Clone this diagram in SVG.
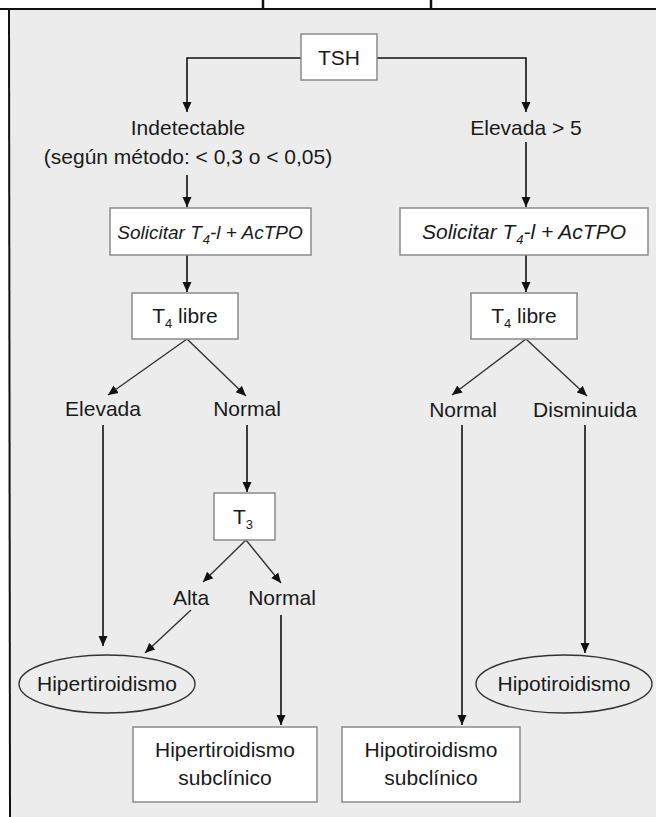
<svg xmlns="http://www.w3.org/2000/svg" width="656" height="817" viewBox="0 0 656 817">
  <defs>
    <marker id="ah" viewBox="0 0 10 10" refX="10" refY="5" markerWidth="10" markerHeight="10" markerUnits="userSpaceOnUse" orient="auto">
      <path d="M0,0.5 L10,5 L0,9.5 Z" fill="#111"/>
    </marker>
    <style>
      .t { font-family: "Liberation Sans", Arial, sans-serif; font-size: 21px; fill: #1a1a1a; text-anchor: middle; }
      .it { font-style: italic; }
      .sm { font-size: 19px; }
      .sub { font-size: 13px; }
      .box { fill: #ffffff; stroke: #8a8a8a; stroke-width: 1.5; }
      .ell { fill: none; stroke: #333; stroke-width: 1.4; }
      .ln { fill: none; stroke: #111; stroke-width: 1.6; }
      .dg { fill: none; stroke: #333; stroke-width: 1.4; }
    </style>
  </defs>
  <rect x="0" y="0" width="656" height="817" fill="#ffffff"/>
  <rect x="9" y="9" width="647" height="808" fill="#ececec"/>
  <line x1="0" y1="9" x2="656" y2="9" stroke="#111" stroke-width="2"/>
  <line x1="9" y1="9" x2="10" y2="817" stroke="#111" stroke-width="2"/>
  <line x1="263" y1="0" x2="263" y2="9" stroke="#111" stroke-width="2.5"/>
  <line x1="431" y1="0" x2="431" y2="9" stroke="#111" stroke-width="2.5"/>

  <g id="connectors">
    <path class="ln" d="M301,58 H187 V112" marker-end="url(#ah)"/>
    <path class="ln" d="M377,58 H526 V112" marker-end="url(#ah)"/>
    <path class="ln" d="M187,175 V207" marker-end="url(#ah)"/>
    <path class="ln" d="M526,142 V207" marker-end="url(#ah)"/>
    <path class="ln" d="M187,255 V292" marker-end="url(#ah)"/>
    <path class="ln" d="M526,255 V292" marker-end="url(#ah)"/>
    <path class="dg" d="M187,339 L108,395" marker-end="url(#ah)"/>
    <path class="dg" d="M187,339 L246,396" marker-end="url(#ah)"/>
    <path class="dg" d="M526,339 L452,395" marker-end="url(#ah)"/>
    <path class="dg" d="M526,339 L587,396" marker-end="url(#ah)"/>
    <path class="ln" d="M103,425 V646" marker-end="url(#ah)"/>
    <path class="ln" d="M247,425 V492" marker-end="url(#ah)"/>
    <path class="dg" d="M246,540 L203,582" marker-end="url(#ah)"/>
    <path class="dg" d="M246,540 L281,583" marker-end="url(#ah)"/>
    <path class="dg" d="M191,610 L145,653" marker-end="url(#ah)"/>
    <path class="ln" d="M281,615 V725" marker-end="url(#ah)"/>
    <path class="ln" d="M462,425 V725" marker-end="url(#ah)"/>
    <path class="ln" d="M585,425 V653" marker-end="url(#ah)"/>
  </g>

  <g id="tsh">
    <rect class="box" x="301" y="34" width="76" height="46"/>
    <text class="t" x="339" y="65">TSH</text>
  </g>
  <g id="indetectable">
    <text class="t" x="188" y="135">Indetectable</text>
    <text class="t" x="188" y="164">(según método: &lt; 0,3 o &lt; 0,05)</text>
  </g>
  <g id="elevada5">
    <text class="t" x="526" y="135">Elevada &gt; 5</text>
  </g>
  <g id="solicitar-left">
    <rect class="box" x="110" y="208" width="201" height="47"/>
    <text class="t it sm" x="210" y="239">Solicitar T<tspan class="sub" dx="1" dy="5">4</tspan><tspan dy="-5">-l + AcTPO</tspan></text>
  </g>
  <g id="solicitar-right">
    <rect class="box" x="400" y="208" width="248" height="47"/>
    <text class="t it" x="524" y="239">Solicitar T<tspan class="sub" dx="1" dy="5">4</tspan><tspan dy="-5">-l + AcTPO</tspan></text>
  </g>
  <g id="t4-left">
    <rect class="box" x="132" y="293" width="106" height="46"/>
    <text class="t" x="185" y="323">T<tspan class="sub" dy="5">4</tspan><tspan dy="-5"> libre</tspan></text>
  </g>
  <g id="t4-right">
    <rect class="box" x="471" y="293" width="106" height="46"/>
    <text class="t" x="524" y="323">T<tspan class="sub" dy="5">4</tspan><tspan dy="-5"> libre</tspan></text>
  </g>
  <g id="elevada"><text class="t" x="103" y="416">Elevada</text></g>
  <g id="normal-left"><text class="t" x="247" y="416">Normal</text></g>
  <g id="normal-right"><text class="t" x="463" y="417">Normal</text></g>
  <g id="disminuida"><text class="t" x="585" y="417">Disminuida</text></g>
  <g id="t3">
    <rect class="box" x="214" y="493" width="61" height="47"/>
    <text class="t" x="243" y="524">T<tspan class="sub" dy="5">3</tspan></text>
  </g>
  <g id="alta"><text class="t" x="191" y="605">Alta</text></g>
  <g id="normal-t3"><text class="t" x="282" y="605">Normal</text></g>
  <g id="hipertiroidismo">
    <ellipse class="ell" cx="107" cy="684" rx="88" ry="29"/>
    <text class="t" x="107" y="691">Hipertiroidismo</text>
  </g>
  <g id="hipotiroidismo">
    <ellipse class="ell" cx="564" cy="684" rx="88" ry="29"/>
    <text class="t" x="564" y="691">Hipotiroidismo</text>
  </g>
  <g id="hiper-subclinico">
    <rect class="box" x="133" y="727" width="184" height="75"/>
    <text class="t" x="225" y="757">Hipertiroidismo</text>
    <text class="t" x="225" y="785">subclínico</text>
  </g>
  <g id="hipo-subclinico">
    <rect class="box" x="342" y="727" width="178" height="75"/>
    <text class="t" x="431" y="757">Hipotiroidismo</text>
    <text class="t" x="431" y="785">subclínico</text>
  </g>
</svg>
